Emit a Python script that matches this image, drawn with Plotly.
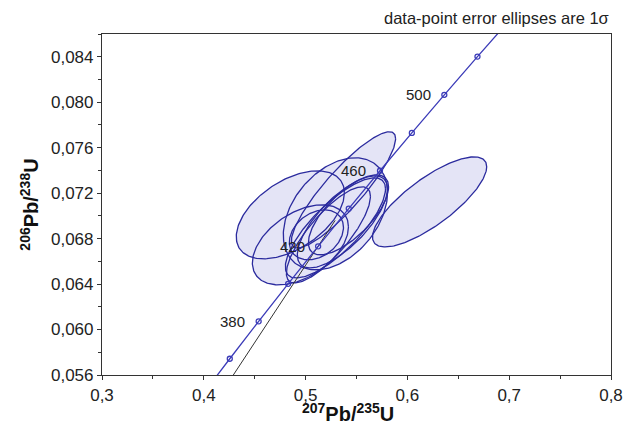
import numpy as np
import plotly.graph_objects as go

# Concordia (207Pb/235U, 206Pb/238U) at ages, Ma
ages = [340, 360, 380, 400, 420, 440, 460, 480, 500, 520, 540]
conc_x = [0.39773, 0.42553, 0.45389, 0.48281, 0.51231, 0.54239, 0.57307, 0.60437, 0.63628, 0.66883, 0.70202]
conc_y = [0.05416, 0.05743, 0.06072, 0.06402, 0.06732, 0.07064, 0.07397, 0.07730, 0.08065, 0.08401, 0.08738]
label_ages = [380, 420, 460, 500]

# Reference (black) line end points
line_x = [0.429, 0.529]
line_y = [0.0560, 0.0696]

# Error ellipses: centres, 1-sigma and correlation
ell_x = [0.6218, 0.4850, 0.5372, 0.5293, 0.5106, 0.4949, 0.5293, 0.5362, 0.5224, 0.5421]
ell_sx = [0.0561, 0.0531, 0.0512, 0.0512, 0.0266, 0.0472, 0.0492, 0.0443, 0.0413, 0.0394]
ell_y = [0.07123, 0.07009, 0.07229, 0.07018, 0.06833, 0.06745, 0.06894, 0.06947, 0.06833, 0.07009]
ell_sy = [0.00396, 0.00387, 0.00511, 0.00493, 0.00220, 0.00352, 0.00440, 0.00405, 0.00423, 0.00352]
ell_rho = [0.78, 0.50, 0.88, 0.38, 0.30, 0.45, 0.78, 0.72, 0.80, 0.70]

fill_col = "#e4e4f6"
edge_col = "#2b2b9e"
conc_col = "#3b3bb8"

fig = go.Figure()
t = np.linspace(0, 2 * np.pi, 200)

def ellipse(cx, sx, cy, sy, r):
    ex = cx + sx * np.cos(t)
    ey = cy + sy * (r * np.cos(t) + np.sqrt(1 - r * r) * np.sin(t))
    return ex, ey

for cx, sx, cy, sy, r in zip(ell_x, ell_sx, ell_y, ell_sy, ell_rho):
    ex, ey = ellipse(cx, sx, cy, sy, r)
    fig.add_trace(go.Scatter(x=ex, y=ey, mode="lines", fill="toself", fillcolor=fill_col,
                             line=dict(width=0, color=fill_col), hoverinfo="skip", showlegend=False))
for cx, sx, cy, sy, r in zip(ell_x, ell_sx, ell_y, ell_sy, ell_rho):
    ex, ey = ellipse(cx, sx, cy, sy, r)
    fig.add_trace(go.Scatter(x=ex, y=ey, mode="lines", line=dict(width=1.3, color=edge_col),
                             hoverinfo="skip", showlegend=False))

fig.add_trace(go.Scatter(x=line_x, y=line_y, mode="lines", line=dict(color="#333333", width=1),
                         showlegend=False))
fig.add_trace(go.Scatter(x=conc_x, y=conc_y, mode="lines+markers", line=dict(color=conc_col, width=1.3, shape="spline"),
                         marker=dict(symbol="circle-open", size=5, color=conc_col, line=dict(width=1.3)),
                         showlegend=False))

for a in label_ages:
    i = ages.index(a)
    fig.add_annotation(x=conc_x[i], y=conc_y[i], text=str(a), showarrow=False, xshift=-26,
                       font=dict(size=15, color="#222222"))

fig.add_annotation(xref="paper", yref="paper", x=1.0, y=1.0, yshift=5, xanchor="right", yanchor="bottom",
                   text="data-point error ellipses are 1σ", showarrow=False,
                   font=dict(size=16.5, color="#222222"))

# x-axis title placed as annotation below the tick labels
fig.add_annotation(xref="paper", yref="paper", x=0.5, y=0, xshift=-9, yshift=-23, xanchor="center", yanchor="top",
                   text="<b><sup>207</sup>Pb/<sup>235</sup>U</b>", showarrow=False,
                   font=dict(size=20, color="#111111"))

axis_common = dict(showgrid=False, zeroline=False, showline=True, linecolor="#333333", linewidth=1.2,
                   mirror=True, ticks="outside", ticklen=4, tickwidth=1, tickcolor="#333333",
                   automargin=False, tickfont=dict(size=17, color="#222222"))

fig.update_xaxes(range=[0.3, 0.8], dtick=0.1, tick0=0.3, tickformat=".1f",
                 minor=dict(dtick=0.05, ticks="outside", ticklen=3, tickcolor="#333333"),
                 **axis_common)
fig.update_yaxes(range=[0.056, 0.086], dtick=0.004, tick0=0.056, tickformat=".3f",
                 minor=dict(dtick=0.002, ticks="outside", ticklen=3, tickcolor="#333333"),
                 title=dict(text="<b><sup>206</sup>Pb/<sup>238</sup>U</b>", font=dict(size=20, color="#111111"), standoff=6),
                 **axis_common)

fig.update_layout(width=625, height=424, margin=dict(l=102, r=14, t=34, b=49),
                  plot_bgcolor="white", paper_bgcolor="white", separators=",.",
                  font=dict(family="Liberation Sans, Arial, sans-serif"))

# remove the default page margin so the figure sits flush in the window
fig.write_html("out.html", config={"displayModeBar": False},
               post_script="document.body.style.margin='0';document.body.style.overflow='hidden';")
